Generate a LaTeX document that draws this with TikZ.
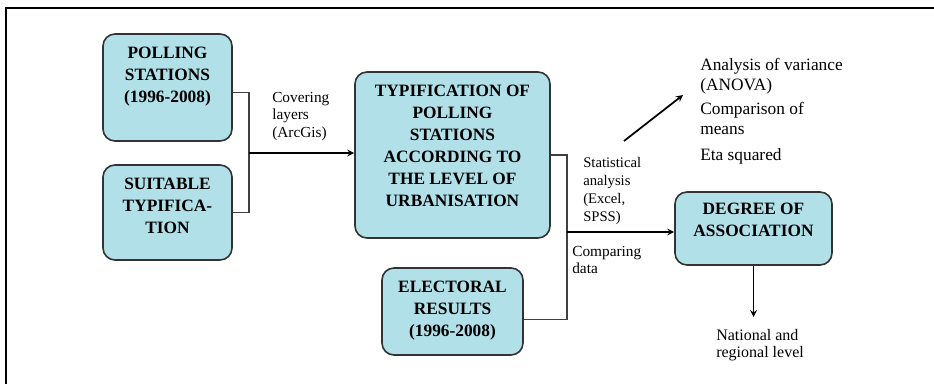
\documentclass[tikz,border=0pt]{standalone}
\usepackage{fontspec}
\setmainfont{Liberation Serif}
\newfontfamily\diagfont{Liberation Serif}
\usepackage{xcolor}
\usepackage{tikz}
\usetikzlibrary{arrows}
\definecolor{boxblue}{RGB}{178,224,232}
\tikzstyle{box} = [rectangle, rounded corners=9pt, draw=black!80, fill=boxblue, line width=1.2pt]
\tikzstyle{boxtext} = [anchor=north, inner sep=0pt, yshift=-10pt, align=center, font=\diagfont\fontsize{13}{16.5}\selectfont\bfseries]
\tikzstyle{note} = [anchor=north west, inner sep=0pt, align=left, font=\diagfont\fontsize{11.5}{13}\selectfont]
\tikzstyle{line} = [draw=black!75, line width=1pt]
\tikzstyle{arrow} = [line width=1.3pt, ->, >=stealth]

\begin{document}
\begin{tikzpicture}[x=0.75pt, y=-0.75pt]
			\useasboundingbox (0,0) rectangle (934,384);
			\draw [line width=1.2pt] (6,384) -- (6,8) -- (934,8);
			\node (polling) [box, minimum width=96.75pt, minimum height=80.25pt, label={[boxtext]north:{POLLING\\STATIONS\\(1996-2008)}}] at (167.5,87.5) {};
			\node (suitable) [box, minimum width=96.75pt, minimum height=71.25pt, label={[boxtext]north:{SUITABLE\\TYPIFICA-\\TION}}] at (167.5,212.5) {};
			\node (typif) [box, minimum width=146.25pt, minimum height=124.5pt, label={[boxtext]north:{TYPIFICATION OF\\POLLING\\STATIONS\\ACCORDING TO\\THE LEVEL OF\\URBANISATION}}] at (452.5,155) {};
			\node (electoral) [box, minimum width=105.75pt, minimum height=65.25pt, label={[boxtext]north:{ELECTORAL\\RESULTS\\(1996-2008)}}] at (452.5,311.5) {};
			\node (degree) [box, minimum width=117.75pt, minimum height=54.75pt, label={[boxtext, yshift=1.5pt]north:{DEGREE OF\\ASSOCIATION}}] at (753.5,228.5) {};
			\node (covering) [note] at (272,92) {Covering\\layers\\(ArcGis)};
			\node (stats) [note, font=\diagfont\fontsize{11}{13.5}\selectfont] at (583,157) {Statistical\\analysis\\(Excel,\\SPSS)};
			\node (comparing) [note] at (572,246) {Comparing\\data};
			\node (national) [note, font=\diagfont\fontsize{12}{13}\selectfont] at (716,329) {National and\\regional level};
			\node (methods) [note, font=\diagfont\fontsize{13}{15}\selectfont] at (700,58) {Analysis of variance\\(ANOVA)\\[3pt]Comparison of\\means\\[4.5pt]Eta squared};
			\coordinate (j1) at (249,153);
			\coordinate (j2) at (567,232);
			\coordinate (d1) at (624,141);
			\coordinate (d2) at (683,95);
			\draw [line] ([yshift=-4pt]polling.east) -| (j1) |- (suitable.east);
			\draw [arrow] (j1) -- (j1 -| typif.west);
			\draw [line] (typif.east) -| (j2) |- ([yshift=-6pt]electoral.east);
			\draw [arrow] (j2) -- (j2 -| degree.west);
			\draw [arrow] (d1) -- (d2);
			\draw [arrow] (degree.south) -- ([yshift=9pt]degree.south |- national.north);
		\end{tikzpicture}
\end{document}
